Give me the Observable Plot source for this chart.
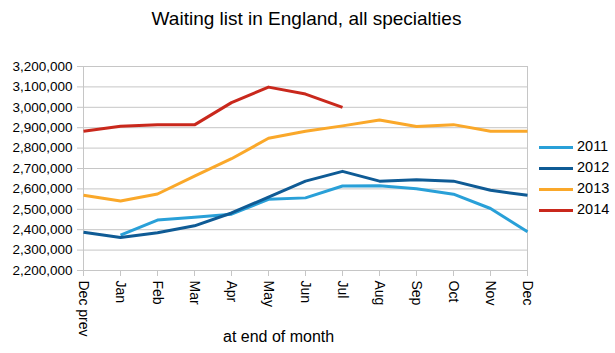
<!DOCTYPE html>
<html>
<head>
<meta charset="utf-8">
<script src="https://cdn.jsdelivr.net/npm/d3@7"></script>
<script src="https://cdn.jsdelivr.net/npm/@observablehq/plot@0.6"></script>
<style>
  html, body { margin: 0; padding: 0; background: #fff; }
  #wrap { position: relative; width: 615px; height: 353px; font-family: "Liberation Sans", Arial, Helvetica, sans-serif; color: #000; }
  #title { position: absolute; left: 0; top: 9px; width: 613px; text-align: center; font-size: 19px; line-height: 1; }
  #chart { position: absolute; left: 0; top: 40px; }
  #xlabel { position: absolute; left: 223px; top: 329px; font-size: 16px; line-height: 1; white-space: nowrap; }
  .leg { position: absolute; left: 539px; font-size: 14.5px; line-height: 1; white-space: nowrap; }
  .leg span.sw { display: inline-block; width: 34px; height: 3px; vertical-align: middle; margin-right: 4px; }
</style>
</head>
<body>
<div id="wrap">
  <div id="title">Waiting list in England, all specialties</div>
  <div id="chart"></div>
  <div id="xlabel">at end of month</div>
</div>
<script>
const months = ["Dec prev","Jan","Feb","Mar","Apr","May","Jun","Jul","Aug","Sep","Oct","Nov","Dec"];
const years = ["2011","2012","2013","2014"];
const colors = ["#29a0d8","#0f5b95","#faa82a","#c9281c"];
const v2011 = [null,2373000,2447000,2461000,2476000,2549000,2556000,2614000,2616000,2601000,2574000,2504000,2390000];
const v2012 = [2388000,2362000,2385000,2419000,2482000,2560000,2638000,2686000,2638000,2645000,2638000,2593000,2569000];
const v2013 = [2569000,2541000,2575000,2663000,2748000,2848000,2883000,2909000,2938000,2906000,2915000,2883000,2883000];
const v2014 = [2883000,2907000,2914000,2914000,3023000,3099000,3065000,3000000,null,null,null,null,null];
const yTicks = [2200000,2300000,2400000,2500000,2600000,2700000,2800000,2900000,3000000,3100000,3200000];

const seriesVals = [v2011, v2012, v2013, v2014];
const data = [];
years.forEach((yr, k) => {
  seriesVals[k].forEach((v, i) => { if (v != null) data.push({month: months[i], value: v, year: yr}); });
});

const grid = "#c6c6c6";
const chart = Plot.plot({
  width: 615, height: 313,
  marginLeft: 83, marginRight: 88, marginTop: 26, marginBottom: 83,
  style: {fontFamily: "'Liberation Sans', Arial, Helvetica, sans-serif", fontSize: "13px", color: "#000", background: "transparent"},
  x: {type: "point", domain: months, padding: 0},
  y: {domain: [2200000, 3200000]},
  color: {domain: years, range: colors},
  marks: [
    Plot.gridY({ticks: yTicks, stroke: grid, strokeOpacity: 1, strokeWidth: 1}),
    Plot.ruleX([months[0], months[months.length - 1]], {stroke: grid, strokeWidth: 1}),
    Plot.axisY({ticks: yTicks, tickFormat: d3.format(","), tickSize: 6, tickPadding: 5, stroke: grid, label: null, fill: "#000", fontSize: 13.5}),
    Plot.axisX({tickRotate: 90, tickSize: 6, tickPadding: 4, stroke: grid, label: null, fill: "#000", fontSize: 14}),
    Plot.lineY(data, {x: "month", y: "value", z: "year", stroke: "year", strokeWidth: 3, strokeLinejoin: "round", strokeLinecap: "butt"})
  ]
});
document.getElementById("chart").appendChild(chart);

const wrap = document.getElementById("wrap");
const legTops = [146, 167, 188, 209];
years.forEach((yr, k) => {
  const d = document.createElement("div");
  d.className = "leg";
  d.style.top = (legTops[k] - 7) + "px";
  d.innerHTML = `<span class="sw" style="background:${colors[k]}"></span>${yr}`;
  wrap.appendChild(d);
});
</script>
</body>
</html>
